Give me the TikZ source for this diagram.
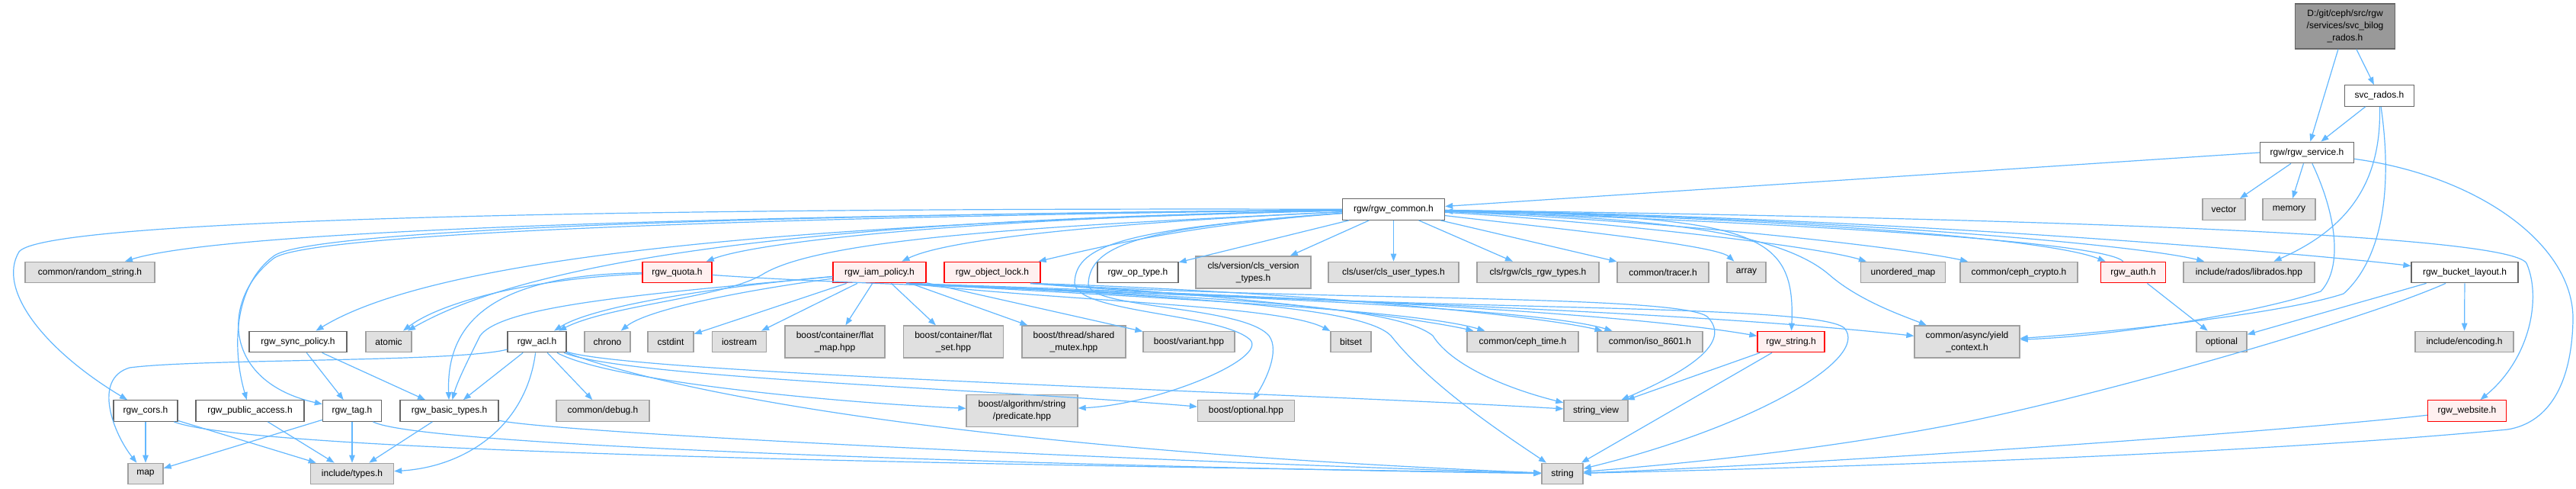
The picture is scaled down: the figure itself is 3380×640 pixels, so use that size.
\documentclass[tikz,border=0pt]{standalone}
\usepackage{fontspec}
\setmainfont{Liberation Sans}
\usetikzlibrary{arrows.meta}
\definecolor{edgec}{HTML}{63B8FF}
\definecolor{gfill}{HTML}{E0E0E0}
\definecolor{gdraw}{HTML}{A0A0A0}
\definecolor{wdraw}{HTML}{666666}
\definecolor{rfill}{HTML}{FFF0F0}
\definecolor{rdraw}{HTML}{FF0000}
\definecolor{rootfill}{HTML}{999999}
\begin{document}
\begin{tikzpicture}[x=1pt,y=-1pt,
  box/.style={line width=1.3pt,inner sep=0pt,minimum height=27.5pt,align=center,font=\fontsize{12}{16}\selectfont},
  gn/.style={box,fill=gfill,draw=gdraw},
  wn/.style={box,fill=white,draw=wdraw},
  rn/.style={box,fill=rfill,draw=rdraw},
  two/.style={minimum height=42pt},
  dep/.style={draw=edgec,line width=1.2pt,-{Triangle[length=10pt,width=7.5pt]}}]
\fill[white] (0,0) rectangle (3380,640);
\useasboundingbox (0,0) rectangle (3380,640);
% nodes
\node[box,minimum width=131pt,minimum height=59pt,fill=rootfill,draw=wdraw] (root) at (3077,34.5) {D:/git/ceph/src/rgw\\/services/svc\_bilog\\\_rados.h};
\node[wn,minimum width=91pt] (svc) at (3122,125.5) {svc\_rados.h};
\node[wn,minimum width=123pt] (service) at (3027,200) {rgw/rgw\_service.h};
\node[wn,minimum width=134pt] (common) at (1828.5,274.5) {rgw/rgw\_common.h};
\node[gn,minimum width=56pt] (vector) at (2918,274.5) {vector};
\node[gn,minimum width=69pt] (memory) at (3003.5,274.5) {memory};
% row 4
\node[gn,minimum width=170pt] (randstr) at (118,357) {common/random\_string.h};
\node[rn,minimum width=91pt] (quota) at (888.5,357) {rgw\_quota.h};
\node[rn,minimum width=122pt] (iam) at (1154,357) {rgw\_iam\_policy.h};
\node[rn,minimum width=126pt] (objlock) at (1302,357) {rgw\_object\_lock.h};
\node[wn,minimum width=106pt] (optype) at (1493,357) {rgw\_op\_type.h};
\node[gn,two,minimum width=151pt] (clsver) at (1644.5,357) {cls/version/cls\_version\\\_types.h};
\node[gn,minimum width=171pt] (clsuser) at (1828.5,357) {cls/user/cls\_user\_types.h};
\node[gn,minimum width=160pt] (clsrgw) at (2018,357) {cls/rgw/cls\_rgw\_types.h};
\node[gn,minimum width=120pt] (tracer) at (2182,357) {common/tracer.h};
\node[gn,minimum width=51pt] (array) at (2291.5,357) {array};
\node[gn,minimum width=111pt] (umap) at (2497,357) {unordered\_map};
\node[gn,minimum width=154pt] (crypto) at (2649,357) {common/ceph\_crypto.h};
\node[rn,minimum width=85pt] (auth) at (2799,357) {rgw\_auth.h};
\node[gn,minimum width=172pt] (librados) at (2951,357) {include/rados/librados.hpp};
\node[wn,minimum width=140pt] (bucket) at (3234,357) {rgw\_bucket\_layout.h};
% row 5
\node[wn,minimum width=128pt] (syncpol) at (391,448) {rgw\_sync\_policy.h};
\node[gn,minimum width=60pt] (atomic) at (510,448) {atomic};
\node[wn,minimum width=77pt] (acl) at (704.5,448) {rgw\_acl.h};
\node[gn,minimum width=60pt] (chrono) at (797,448) {chrono};
\node[gn,minimum width=60pt] (cstdint) at (880,448) {cstdint};
\node[gn,minimum width=71pt] (iostream) at (970,448) {iostream};
\node[gn,two,minimum width=131pt] (flatmap) at (1095.5,448) {boost/container/flat\\\_map.hpp};
\node[gn,two,minimum width=131pt] (flatset) at (1251,448) {boost/container/flat\\\_set.hpp};
\node[gn,two,minimum width=136pt] (shmutex) at (1409,448) {boost/thread/shared\\\_mutex.hpp};
\node[gn,minimum width=120pt] (variant) at (1560,448) {boost/variant.hpp};
\node[gn,minimum width=53pt] (bitset) at (1772.5,448) {bitset};
\node[gn,minimum width=146pt] (cephtime) at (1998,448) {common/ceph\_time.h};
\node[gn,minimum width=138pt] (iso) at (2165,448) {common/iso\_8601.h};
\node[rn,minimum width=88pt] (rgwstring) at (2350,448) {rgw\_string.h};
\node[gn,two,minimum width=138pt] (yield) at (2581,448) {common/async/yield\\\_context.h};
\node[gn,minimum width=66pt] (optional) at (2915,448) {optional};
\node[gn,minimum width=129pt] (encoding) at (3233.5,448) {include/encoding.h};
% row 6
\node[wn,minimum width=84pt] (cors) at (191,538.5) {rgw\_cors.h};
\node[wn,minimum width=142pt] (pubacc) at (328,538.5) {rgw\_public\_access.h};
\node[wn,minimum width=77pt] (tag) at (462,538.5) {rgw\_tag.h};
\node[wn,minimum width=129pt] (basic) at (589.6,538.5) {rgw\_basic\_types.h};
\node[gn,minimum width=122pt] (debug) at (791,538.5) {common/debug.h};
\node[gn,two,minimum width=146pt] (predicate) at (1341,538.5) {boost/algorithm/string\\/predicate.hpp};
\node[gn,minimum width=127pt] (boostopt) at (1635,538.5) {boost/optional.hpp};
\node[gn,minimum width=84pt] (strview) at (2094,538.5) {string\_view};
\node[rn,minimum width=103pt] (website) at (3237,538.5) {rgw\_website.h};
% row 7
\node[gn,minimum width=46pt] (map) at (191,621) {map};
\node[gn,minimum width=109pt] (types) at (462,621) {include/types.h};
\node[gn,minimum width=54pt] (string) at (2050,621) {string};

% edges: root / services
\draw[dep] (root) -- (service);
\draw[dep] (root) -- (svc);
\draw[dep] (svc) -- (service);
\draw[dep] (service) -- (vector);
\draw[dep] (service) -- (memory);
\draw[dep] (service.west) -- ([yshift=4pt]common.east);
\draw[dep] (svc) .. controls (3125,240) and (3080,300) .. (librados);
\draw[dep] (svc) .. controls (3140,250) and (3125,340) .. (3075,385) .. controls (3000,410) and (2780,435) .. (yield);
\draw[dep] (service) .. controls (3065,280) and (3075,350) .. (3045,382) .. controls (2960,410) and (2780,440) .. (yield);
\draw[dep] (service) .. controls (3250,230) and (3378,320) .. (3376,420) .. controls (3374,510) and (3340,555) .. (3290,563) .. controls (2900,600) and (2300,615) .. (string);
% edges: common
\draw[dep] (common) .. controls (1000,282) and (300,300) .. (randstr);
\draw[dep] (common) .. controls (900,272) and (60,285) .. (25,330) .. controls (-5,380) and (60,460) .. (cors);
\draw[dep] (common) .. controls (1200,280) and (420,295) .. (360,335) .. controls (305,375) and (305,460) .. (pubacc);
\draw[dep] (common) .. controls (1200,282) and (420,300) .. (360,338) .. controls (290,390) and (290,500) .. (tag);
\draw[dep] (common) .. controls (1200,290) and (600,320) .. (syncpol);
\draw[dep] (common) .. controls (1300,285) and (750,310) .. (atomic);
\draw[dep] (common) .. controls (1300,285) and (1000,315) .. (quota);
\draw[dep] (common) .. controls (1400,295) and (1080,310) .. (1000,360) .. controls (950,390) and (800,400) .. (acl);
\draw[dep] (common) .. controls (1500,290) and (1250,310) .. (iam);
\draw[dep] (common) .. controls (1600,292) and (1500,310) .. (objlock);
\draw[dep] (common) -- (optype);
\draw[dep] (common) -- (clsver);
\draw[dep] (common) -- (clsuser);
\draw[dep] (common) -- (clsrgw);
\draw[dep] (common) -- (tracer);
\draw[dep] (common) .. controls (2000,295) and (2250,320) .. (array);
\draw[dep] (common) .. controls (2100,290) and (2380,322) .. (umap);
\draw[dep] (common) .. controls (2200,290) and (2500,325) .. (crypto);
\draw[dep] (common) .. controls (2300,285) and (2680,310) .. (auth);
\draw[dep] (auth) .. controls (2760,315) and (2300,290) .. (common);
\draw[dep] (common) .. controls (2400,285) and (2800,320) .. (librados);
\draw[dep] (common) .. controls (2500,285) and (3050,335) .. (bucket);
\draw[dep] (common) .. controls (2600,285) and (3290,305) .. (3315,345) .. controls (3335,390) and (3320,470) .. (website);
\draw[dep] (common) .. controls (2300,285) and (2356,300) .. (rgwstring);
\draw[dep] (common) .. controls (2150,285) and (2330,300) .. (2400,360) .. controls (2440,395) and (2500,415) .. (yield);
\draw[dep] (common) .. controls (1480,300) and (1412,320) .. (1410,370) .. controls (1408,410) and (1600,410) .. (1640,445) .. controls (1665,470) and (1520,530) .. (predicate);
\draw[dep] (common) .. controls (1500,298) and (1430,320) .. (1428,372) .. controls (1426,405) and (1630,400) .. (1665,440) .. controls (1680,460) and (1660,500) .. (boostopt);
% edges: object lock
\draw[dep] ([xshift=50pt]objlock.south) .. controls (1700,395) and (2200,385) .. (2240,415) .. controls (2270,445) and (2230,480) .. (strview);
\draw[dep] ([xshift=50pt]objlock.south) .. controls (1800,410) and (2380,395) .. (2420,430) .. controls (2455,470) and (2300,560) .. (string);
\draw[dep] ([xshift=50pt]objlock.south) .. controls (1600,385) and (1850,415) .. (cephtime);
\draw[dep] ([xshift=50pt]objlock.south) .. controls (1650,380) and (2000,410) .. (iso);
% edges: iam policy
\draw[dep] (iam) -- (cstdint);
\draw[dep] (iam) -- (iostream);
\draw[dep] (iam) -- (flatmap);
\draw[dep] (iam) -- (flatset);
\draw[dep] (iam) -- (shmutex);
\draw[dep] (iam) -- (variant);
\draw[dep] (iam) .. controls (950,375) and (780,400) .. (acl);
\draw[dep] (iam) .. controls (980,380) and (850,405) .. (chrono);
\draw[dep] (iam) .. controls (850,385) and (660,400) .. (630,440) .. controls (615,470) and (600,500) .. (basic);
\draw[dep] ([xshift=35pt]iam.south) .. controls (1400,395) and (1680,400) .. (bitset);
\draw[dep] ([xshift=35pt]iam.south) .. controls (1500,390) and (1850,405) .. (cephtime);
\draw[dep] ([xshift=35pt]iam.south) .. controls (1500,385) and (2000,400) .. (iso);
\draw[dep] ([xshift=35pt]iam.south) .. controls (1600,385) and (2100,405) .. (rgwstring);
\draw[dep] ([xshift=35pt]iam.south) .. controls (1600,390) and (1790,405) .. (1825,440) .. controls (1880,510) and (1990,580) .. (string);
\draw[dep] ([xshift=35pt]iam.south) .. controls (1600,390) and (1830,400) .. (1880,440) .. controls (1905,480) and (1980,510) .. (strview);
% edges: quota
\draw[dep] (quota) .. controls (650,360) and (585,420) .. (basic);
\draw[dep] (quota) .. controls (700,365) and (580,395) .. (atomic);
\draw[dep] (quota) .. controls (1200,380) and (2100,395) .. (yield);
% edges: acl
\draw[dep] (acl) -- (basic);
\draw[dep] (acl) -- (debug);
\draw[dep] (acl) .. controls (600,475) and (260,470) .. (170,482) .. controls (120,497) and (150,570) .. (map);
\draw[dep] (acl) .. controls (690,560) and (610,612) .. (types);
\draw[dep] (acl) .. controls (800,500) and (1100,528) .. (predicate);
\draw[dep] (acl) .. controls (820,495) and (1300,510) .. (boostopt);
\draw[dep] (acl) .. controls (830,490) and (1700,515) .. (strview);
\draw[dep] (acl) .. controls (900,520) and (1300,590) .. (string);
% edges: lower left
\draw[dep] (syncpol) -- (tag);
\draw[dep] (syncpol) -- (basic);
\draw[dep] (cors) -- (map);
\draw[dep] (cors) -- (types);
\draw[dep] (cors) .. controls (350,600) and (1600,612) .. (string);
\draw[dep] (pubacc) -- (types);
\draw[dep] (tag) -- (map);
\draw[dep] (tag) -- (types);
\draw[dep] (tag) .. controls (560,590) and (1600,615) .. (string);
\draw[dep] (basic) -- (types);
\draw[dep] (basic) .. controls (750,570) and (1600,608) .. (string);
% edges: right part
\draw[dep] (rgwstring) -- (strview);
\draw[dep] (rgwstring) -- (string);
\draw[dep] (bucket) -- (optional);
\draw[dep] (bucket) -- (encoding);
\draw[dep] ([xshift=-25pt]bucket.south) .. controls (3100,420) and (2750,520) .. (2560,557) .. controls (2350,597) and (2150,612) .. (string);
\draw[dep] (auth) -- (optional);
\draw[dep] (website) .. controls (2950,570) and (2350,610) .. (string);
\end{tikzpicture}
\end{document}
